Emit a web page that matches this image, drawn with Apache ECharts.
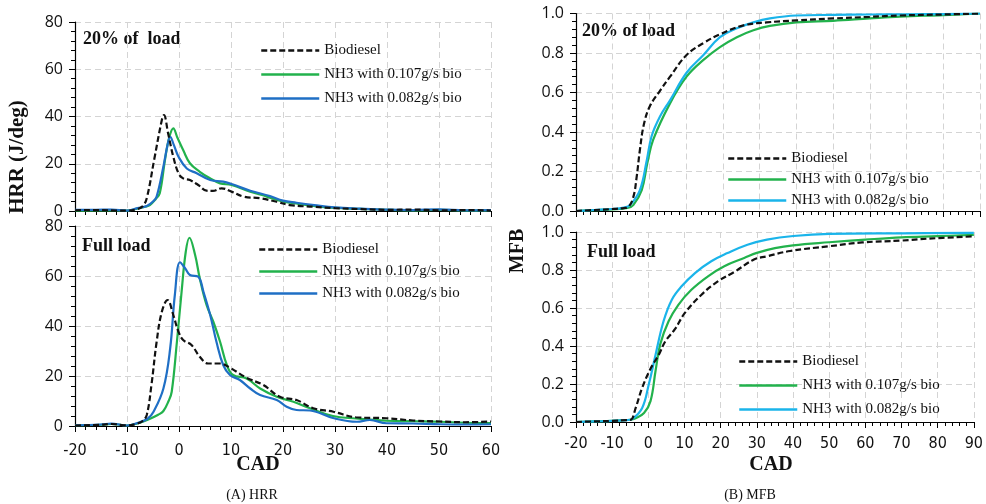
<!DOCTYPE html>
<html>
<head>
<meta charset="utf-8">
<script src="https://cdn.jsdelivr.net/npm/echarts@6/dist/echarts.min.js"></script>
<style>
html,body{margin:0;padding:0;background:#fff;}
#c{width:986px;height:504px;}
</style>
</head>
<body>
<div id="c"></div>
<script>
// ---------- DATA ----------
const seriesNames = ['Biodiesel', 'NH3 with 0.107g/s bio', 'NH3 with 0.082g/s bio'];
const hrrXTicks = [-20, 60, 10];
const mfbXTicks = [-20, 90, 10];

// HRR, 20% load
const hrrLowBioX = [-20,-15,-12,-10,-8,-7,-6.2,-4.75,-3.3,-2.9,-2.1,-1.1,-0.1,0.8,2.1,3.7,5.3,6.5,8.2,10.1,12.4,15.6,18.8,21.3,25.8,30,35,40,45,50,55,60];
const hrrLowBioY = [0.3,0.4,0.2,0.2,0.8,2,5.4,22,38.5,40.6,32.9,23,16,13.8,13.1,11,8.6,8.5,9.6,8.2,6.1,5.4,3.9,2.5,1.8,1.2,0.8,0.5,0.6,0.3,0.4,0.2];
const hrrLowN107X = [-20,-15,-10,-8,-6.5,-5.6,-4.5,-3.7,-2.7,-1.9,-1.1,-0.3,0.8,2.1,4.0,6.0,7.9,10.1,13.7,16.9,20.1,23,27,30,35,40,45,50,55,60];
const hrrLowN107Y = [0.2,0.3,0.2,1,1.8,2.5,5,7.5,21.6,31,35,31,25.8,20.2,16.6,13.8,11.7,11,8.2,6.1,3.9,3,1.8,1.3,0.9,0.5,0.3,0.5,0.2,0.3];
const hrrLowN082X = [-20,-16,-13,-10,-8,-6.2,-5,-4.3,-3,-2.2,-1.7,-1,-0.1,1.5,3.4,6,8.5,10.1,13.7,17.5,20,22.6,26,30,35,40,45,50,55,60];
const hrrLowN082Y = [0.5,0.5,0.6,0.2,1.2,2.1,4,6.1,18.8,28,31.4,28,23,18,16,13.1,12.4,11.4,8.6,6.3,4.4,3.5,2.5,1.5,1.0,0.6,0.4,0.7,0.3,0.4];

// HRR, full load
const hrrFullBioX = [-20,-15,-13,-11,-10,-8,-7,-6.2,-5.3,-4.3,-3.3,-2.2,-1.1,-0.1,0.8,2.4,4,5.6,7.9,9.8,13,16.2,19.4,22.6,25.8,29.7,34,39.9,45,50.2,55,60];
const hrrFullBioY = [0.2,0.5,0.8,0.4,0.2,1,2,4.4,16.4,33.7,45.7,50.4,44.4,37.7,34.4,32.4,27.7,25,25,23.3,19.3,16.4,11.7,10.4,7.1,5.7,3.5,3.1,2.2,1.8,1.5,1.8];
const hrrFullN107X = [-20,-15,-13,-11,-10,-8,-6,-4,-3,-2,-1.4,-0.4,0.5,1.3,2,3.1,4,5.3,6.6,7.9,9.2,10.4,13,15.6,18.8,22,25.2,29.6,34,39.9,45,50.2,55,60];
const hrrFullN107Y = [0.3,0.5,0.8,0.4,0.2,1,2.5,4.5,6,10,13.7,33.7,53.7,69.7,75.3,68.4,59,48.4,41.7,33.7,24.4,20.4,19,15,11.7,9.7,7.1,4,3,2.1,1.9,1.7,1.3,1.2];
const hrrFullN082X = [-20,-15,-13,-11,-10,-8,-6,-4.9,-3,-1.7,-0.8,0.2,1.2,2.1,3.7,4.7,6,7.2,8.5,9.8,11.7,13.7,15.6,18.8,20.7,22.6,25.2,29.6,34.2,36.7,39.9,45,50.2,55,60];
const hrrFullN082Y = [0.3,0.6,1,0.4,0.2,1.2,3,5.7,15,31,52.4,65.5,63,60.4,59.7,53.7,44.4,33.7,24.4,20.4,18.4,15,12.4,10.4,7.7,6.4,6.2,3.2,1.7,2.4,1.1,1.0,0.7,0.6,0.7];

// MFB, 20% load
const mfbLowBioX = [-20,-15,-10,-7,-5.8,-4.4,-3.5,-2.6,-1.5,0.1,2.9,5.6,10.1,14.7,19.2,25.6,31.9,40,50,60,68.2,80,90];
const mfbLowBioY = [0,0.005,0.01,0.015,0.02,0.07,0.17,0.31,0.44,0.53,0.61,0.68,0.79,0.85,0.895,0.94,0.955,0.965,0.975,0.983,0.99,0.995,1.0];
const mfbLowN107X = [-20,-15,-10,-6,-4.4,-2.1,-0.6,1.0,5.6,10.1,14.7,19.2,23.8,28.3,32.8,40,50,60,68.2,80,90];
const mfbLowN107Y = [0,0.004,0.008,0.015,0.03,0.106,0.24,0.36,0.545,0.68,0.765,0.83,0.88,0.915,0.937,0.955,0.963,0.975,0.984,0.992,1.0];
const mfbLowN082X = [-20,-15,-10,-7,-5.3,-2.6,-0.7,0.6,2.9,5.6,10.1,14.7,19.2,23.8,28.3,32.8,40,50,60,70,80,90];
const mfbLowN082Y = [0,0.005,0.01,0.017,0.03,0.106,0.26,0.38,0.48,0.56,0.70,0.79,0.88,0.925,0.955,0.975,0.99,0.993,0.995,0.996,0.997,1.0];

// MFB, full load
const mfbFullBioX = [-20,-15,-10,-6,-4.8,-3.5,-1.7,0.6,2.9,4.7,7.4,10.1,14.7,19.2,23.8,29.2,32.8,39.2,50,59.1,70,77.3,90];
const mfbFullBioY = [0,0.003,0.006,0.01,0.012,0.074,0.18,0.28,0.354,0.425,0.49,0.574,0.67,0.74,0.79,0.855,0.872,0.9,0.925,0.945,0.955,0.965,0.977];
const mfbFullN107X = [-20,-15,-10,-5,-3.5,-1.2,0.6,2.0,3.3,5.6,8.3,11.9,16.5,21,26.5,30,35,40,50,60,70,80,90];
const mfbFullN107Y = [0,0.003,0.006,0.012,0.02,0.047,0.11,0.27,0.41,0.53,0.617,0.696,0.767,0.82,0.863,0.89,0.915,0.93,0.946,0.96,0.972,0.978,0.985];
const mfbFullN082X = [-20,-15,-10,-6,-4.4,-1.7,0.1,2.0,4.2,6.5,9.2,12.9,17.4,21.9,27.4,32.8,40.1,50,70,90];
const mfbFullN082Y = [0,0.003,0.006,0.01,0.017,0.074,0.196,0.354,0.53,0.644,0.714,0.784,0.846,0.889,0.933,0.96,0.979,0.99,0.993,0.995];

// ---------- STYLE ----------
const colBio = '#111111';
const colN107 = '#22b24c';
const colN082L = '#1f6fc5';
const colN082R = '#1ab4ea';
const serif = '"Liberation Serif","Times New Roman",serif';
const tickFont = '"Open Sans","Noto Sans",sans-serif';
const narrowFont = '"Liberation Sans Narrow","DejaVu Sans Condensed","Open Sans",sans-serif';

const zip = (xs, ys) => xs.map((x, i) => [x, ys[i]]);

const grids = [
  {left: 75, top: 22, width: 416, height: 189},
  {left: 75, top: 226, width: 416, height: 200},
  {left: 576, top: 13.5, width: 404, height: 197.5},
  {left: 576, top: 232, width: 404, height: 190}
];

function xAxisCfg(gi, ticks, showLabel, margin) {
  return {
    type: 'value', gridIndex: gi, min: ticks[0], max: ticks[1], interval: ticks[2],
    axisLine: {onZero: false, lineStyle: {color: '#000', width: 1.2}},
    axisTick: {show: true, length: 6, lineStyle: {color: '#000'}},
    minorTick: {show: true, splitNumber: 5, length: 4, lineStyle: {color: '#000'}},
    splitLine: {show: true, lineStyle: {color: '#d4d4d4', type: [6, 4], width: 1}},
    axisLabel: {show: showLabel, color: '#111', fontFamily: narrowFont, fontSize: 16, margin: margin}
  };
}
function yAxisCfg(gi, max, interval, decimals) {
  return {
    type: 'value', gridIndex: gi, min: 0, max: max, interval: interval,
    axisLine: {show: true, onZero: false, lineStyle: {color: '#000', width: 1.2}},
    axisTick: {show: true, length: 6, lineStyle: {color: '#000'}},
    minorTick: {show: true, splitNumber: 5, length: 4, lineStyle: {color: '#000'}},
    splitLine: {show: true, lineStyle: {color: '#d4d4d4', type: [6, 4], width: 1}},
    axisLabel: {color: '#111', fontFamily: tickFont, fontSize: 16, margin: 12,
      formatter: v => decimals ? v.toFixed(1) : String(v)}
  };
}

function line(name, gi, data, color, dashed) {
  return {
    name: name, type: 'line', xAxisIndex: gi, yAxisIndex: gi, data: data,
    showSymbol: false, symbol: 'none', smooth: 0.4,
    lineStyle: {color: color, width: 2.2, type: dashed ? [6, 3] : 'solid'},
    itemStyle: {color: color}, z: dashed ? 4 : 3
  };
}

function legendCfg(left, top, gap, blueCol) {
  return {
    show: true, orient: 'vertical', left: left, top: top, itemWidth: 58, itemHeight: 14, itemGap: gap,
    textStyle: {fontFamily: serif, fontSize: 15, color: '#111'},
    itemStyle: {opacity: 0},
    data: [
      {name: seriesNames[0], lineStyle: {color: colBio, width: 2.5, type: [6, 3]}},
      {name: seriesNames[1], lineStyle: {color: colN107, width: 2.5}},
      {name: seriesNames[2], lineStyle: {color: blueCol, width: 2.5}}
    ],
    selectedMode: false
  };
}

function txt(x, y, s, size, bold, align, rot) {
  return {
    type: 'text', x: x, y: y, rotation: rot || 0,
    style: {text: s, font: (bold ? 'bold ' : '') + size + 'px ' + serif, fill: '#111',
      textAlign: align || 'left', textVerticalAlign: 'middle'}
  };
}

const option = {
  animation: false,
  backgroundColor: '#fff',
  grid: grids,
  xAxis: [
    xAxisCfg(0, hrrXTicks, false, 10),
    xAxisCfg(1, hrrXTicks, true, 17),
    xAxisCfg(2, mfbXTicks, false, 10),
    xAxisCfg(3, mfbXTicks, true, 14)
  ],
  yAxis: [
    yAxisCfg(0, 80, 20, false),
    yAxisCfg(1, 80, 20, false),
    yAxisCfg(2, 1, 0.2, true),
    yAxisCfg(3, 1, 0.2, true)
  ],
  legend: [
    legendCfg(255, 38, 9, colN082L),
    legendCfg(253, 237, 7, colN082L),
    legendCfg(722, 146, 6, colN082R),
    legendCfg(733, 349, 9, colN082R)
  ],
  series: [
    line(seriesNames[0], 0, zip(hrrLowBioX, hrrLowBioY), colBio, true),
    line(seriesNames[1], 0, zip(hrrLowN107X, hrrLowN107Y), colN107, false),
    line(seriesNames[2], 0, zip(hrrLowN082X, hrrLowN082Y), colN082L, false),
    line(seriesNames[0], 1, zip(hrrFullBioX, hrrFullBioY), colBio, true),
    line(seriesNames[1], 1, zip(hrrFullN107X, hrrFullN107Y), colN107, false),
    line(seriesNames[2], 1, zip(hrrFullN082X, hrrFullN082Y), colN082L, false),
    line(seriesNames[0], 2, zip(mfbLowBioX, mfbLowBioY), colBio, true),
    line(seriesNames[1], 2, zip(mfbLowN107X, mfbLowN107Y), colN107, false),
    line(seriesNames[2], 2, zip(mfbLowN082X, mfbLowN082Y), colN082R, false),
    line(seriesNames[0], 3, zip(mfbFullBioX, mfbFullBioY), colBio, true),
    line(seriesNames[1], 3, zip(mfbFullN107X, mfbFullN107Y), colN107, false),
    line(seriesNames[2], 3, zip(mfbFullN082X, mfbFullN082Y), colN082R, false)
  ],
  graphic: [
    txt(18, 157, 'HRR (J/deg)', 21, true, 'center', Math.PI / 2),
    txt(518, 251, 'MFB', 20, true, 'center', Math.PI / 2),
    txt(258, 465, 'CAD', 20, true, 'center'),
    txt(771, 465, 'CAD', 20, true, 'center'),
    txt(252, 495, '(A) HRR', 14, false, 'center'),
    txt(750, 495, '(B) MFB', 14, false, 'center'),
    txt(83, 39, '20% of  load', 18, true),
    txt(82, 246, 'Full load', 18, true),
    txt(582, 31, '20% of load', 18, true),
    txt(587, 252, 'Full load', 18, true)
  ]
};

const chart = echarts.init(document.getElementById('c'), null, {renderer: 'canvas'});
chart.setOption(option);
</script>
</body>
</html>
